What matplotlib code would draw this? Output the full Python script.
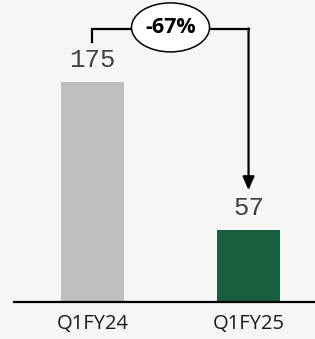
import matplotlib.pyplot as plt
from matplotlib.patches import Ellipse

categories = ["Q1FY24", "Q1FY25"]
values = [175, 57]
change_label = "-67%"
bar_colors = ["#bfbfbf", "#185e3f"]
BG = "#f6f6f6"

fig = plt.figure(figsize=(3.15, 3.39), dpi=100, facecolor=BG)
# axes spans from x=14px to the right edge, baseline at y=302px
ax = fig.add_axes([14 / 315, 37 / 339, 301 / 315, 302 / 339])
ax.set_facecolor(BG)

x = range(len(categories))
ax.bar(x, values, width=0.404, color=bar_colors, zorder=2)

ax.set_xlim(-0.503, 1.426)
ax.set_ylim(0, 240.3)

for xi, v in zip(x, values):
    ax.text(xi, v + 8, str(v), ha="center", va="bottom",
            family="Liberation Mono", fontsize=18.5, color="#404040")

# bracket with arrow from first bar to second
top = max(values) + 42
ax.plot([0, 0, 1], [values[0] + 32, top, top], color="black", lw=1.6,
        solid_joinstyle="miter", zorder=3)
ax.annotate("", xy=(1, values[1] + 32), xytext=(1, top + 0.6),
            arrowprops=dict(arrowstyle="-|>,head_length=0.8,head_width=0.35",
                            color="black", lw=1.6, shrinkA=0, shrinkB=0),
            zorder=3)
ax.add_patch(Ellipse((0.5, top + 1.5), 0.5, 39, fc="white", ec="black",
                     lw=1.1, zorder=4, clip_on=False))
ax.text(0.5, top + 1.5, change_label, ha="center", va="center", fontsize=15.5,
        fontweight="bold", family="Open Sans", color="black", zorder=5)

ax.set_xticks(list(x))
ax.set_xticklabels(categories, family="Open Sans", fontsize=14.5, color="#1a1a1a")
ax.tick_params(axis="x", length=0, pad=9)
ax.set_yticks([])
for side in ("left", "right", "top"):
    ax.spines[side].set_visible(False)
ax.spines["bottom"].set_linewidth(1.6)
ax.spines["bottom"].set_color("black")

fig.savefig("out.png", dpi=100, facecolor=BG)
